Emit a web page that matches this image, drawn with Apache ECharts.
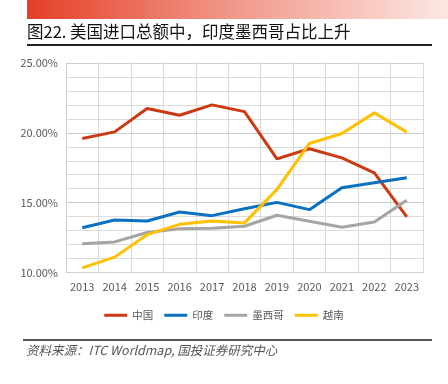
<!DOCTYPE html>
<html><head><meta charset="utf-8">
<script src="https://cdn.jsdelivr.net/npm/echarts@6/dist/echarts.min.js"></script>
<style>html,body{margin:0;padding:0;background:#fff}#c{width:448px;height:384px}</style>
</head><body><div id="c"></div>
<script>
var years = ['2013','2014','2015','2016','2017','2018','2019','2020','2021','2022','2023'];
var china = [19.6, 20.07, 21.74, 21.26, 22.0, 21.52, 18.14, 18.86, 18.21, 17.14, 13.98];
var india = [13.21, 13.76, 13.69, 14.33, 14.07, 14.57, 15.02, 14.5, 16.07, 16.43, 16.79];
var mexico = [12.05, 12.19, 12.86, 13.14, 13.17, 13.31, 14.1, 13.67, 13.24, 13.62, 15.17];
var vietnam = [10.33, 11.1, 12.71, 13.45, 13.69, 13.55, 15.95, 19.24, 19.95, 21.43, 20.05];
var names = ['中国','印度','墨西哥','越南'];
var colors = ['#CC3A14','#0A70C0','#A5A5A5','#FFC000'];

var chart = echarts.init(document.getElementById('c'));
var font = '"Noto Sans CJK SC","Noto Sans",sans-serif';
function mk(name, data, color){
  return {name:name, type:'line', data:data, symbol:'none', smooth:false,
    lineStyle:{color:color, width:3}, itemStyle:{color:color}};
}
chart.setOption({
  animation:false,
  textStyle:{fontFamily:font},
  graphic:[
    {type:'rect', shape:{x:27,y:0,width:421,height:19}, style:{fill:new echarts.graphic.LinearGradient(0,0,1,0,[{offset:0,color:'#E53F28'},{offset:0.5,color:'#F09B8C'},{offset:1,color:'#FCE6E2'}])}},
    {type:'text', left:27, top:23, style:{text:'图22. 美国进口总额中，印度墨西哥占比上升', font:'16.5px '+font, fill:'#111'}},
    {type:'rect', shape:{x:27,y:44,width:405,height:2}, style:{fill:'#222'}},
    {type:'rect', shape:{x:23,y:339,width:409,height:2}, style:{fill:'#555'}},
    {type:'text', left:26, top:344, style:{text:'资料来源：ITC Worldmap, 国投证券研究中心', font:'italic 12.5px '+font, fill:'#555'}}
  ],
  grid:{left:66, right:25, top:63, bottom:111.5},
  legend:{data:names, top:305, left:'center', itemWidth:23, itemHeight:3, itemGap:11,
    icon:'rect', textStyle:{fontSize:10.5, color:'#595959', fontFamily:font}},
  xAxis:{type:'category', data:years, boundaryGap:true,
    axisLine:{show:true, lineStyle:{color:'#D0D0D0', width:1}},
    axisTick:{show:false},
    axisLabel:{color:'#595959', fontSize:11, margin:9},
    splitLine:{show:true, lineStyle:{color:'#DADADA', width:1}}},
  yAxis:{type:'value', min:10, max:25, interval:5,
    axisLine:{show:true, lineStyle:{color:'#D0D0D0'}},
    axisTick:{show:false},
    axisLabel:{color:'#595959', fontSize:11, formatter:function(v){return v.toFixed(2)+'%';}},
    splitLine:{show:true, lineStyle:{color:'#CCCCCC', width:1}},
    minorTick:{show:false, splitNumber:5},
    minorSplitLine:{show:true, lineStyle:{color:'#DCDCDC', width:1}}},
  series:[mk(names[0],china,colors[0]), mk(names[1],india,colors[1]), mk(names[2],mexico,colors[2]), mk(names[3],vietnam,colors[3])]
});
</script></body></html>
